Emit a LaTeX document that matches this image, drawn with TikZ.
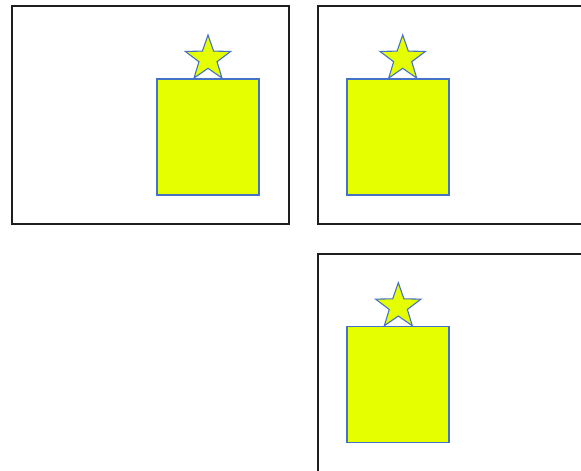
\documentclass[tikz,border=0pt]{standalone}
\usepackage{tikz}
\usetikzlibrary{shapes.geometric,positioning}
\definecolor{shapefill}{RGB}{230,255,0}
\definecolor{shapeline}{RGB}{68,114,196}
\definecolor{framecol}{RGB}{30,30,30}

\begin{document}
\begin{tikzpicture}[
    x=1pt, y=-1pt,
    frame/.style={draw=framecol, line width=1.3pt},
    block/.style={rectangle, draw=shapeline, fill=shapefill, line width=1.1pt, minimum width=102pt, minimum height=116pt, inner sep=0pt},
    starbox/.style={star, star points=5, star point ratio=2.5, draw=shapeline, fill=shapefill, line width=1.1pt, minimum size=47.6pt, inner sep=0pt},
]
\useasboundingbox (0,0) rectangle (581,471);
\clip (0,0) rectangle (581,471);

% === FRAMES ===
\draw[frame] (12,6) rectangle (289,224);
\draw[frame] (318,6) rectangle (600,224);
\draw[frame] (318,254) rectangle (600,490);

% === FIRST FRAME ===
\node[block] (rect1) at (208,137) {};
\node[starbox] (star1) at (208,58.8) {};

% === SECOND FRAME ===
\node[block] (rect2) at (398,137) {};
\node[starbox] (star2) at (402.7,58.8) {};

% === THIRD FRAME ===
\node[block] (rect3) at (398,384.7) {};
\node[starbox] (star3) at (398.3,306.5) {};

\end{tikzpicture}
\end{document}
